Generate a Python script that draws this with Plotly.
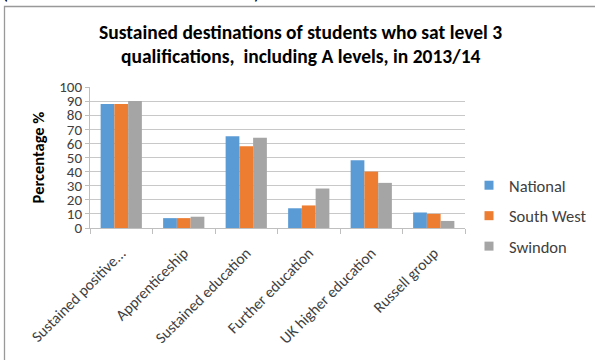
import plotly.graph_objects as go

categories = ["Sustained positive...", "Apprenticeship", "Sustained education",
              "Further education", "UK higher education", "Russell group"]
national = [88, 7, 65, 14, 48, 11]
south_west = [88, 7, 58, 16, 40, 10]
swindon = [90, 8, 64, 28, 32, 5]
series_names = ["National", "South West", "Swindon"]
colors = ["#5B9BD5", "#ED7D31", "#A5A5A5"]
y_ticks = [0, 10, 20, 30, 40, 50, 60, 70, 80, 90, 100]

FONT = "Carlito, Lato, sans-serif"
W, H = 595, 360
L, R, T, B = 90, 130, 87, 132

fig = go.Figure()
for i, (name, vals) in enumerate(zip(series_names, [national, south_west, swindon])):
    fig.add_trace(go.Bar(
        x=categories, y=vals, name=name, legendgroup=name, showlegend=False,
        marker=dict(color=colors[i], line=dict(width=0)),
    ))
# small square legend keys
for i, name in enumerate(series_names):
    fig.add_trace(go.Scatter(
        x=[None], y=[None], mode="markers", name=name, legendgroup=name,
        marker=dict(symbol="square", size=9, color=colors[i]),
    ))


def px_x(p):
    return (p - L) / (W - L - R)


def px_y(p):
    return 1 - (p - T) / (H - T - B)


fig.update_layout(
    width=W, height=H,
    margin=dict(l=L, r=R, t=T, b=B, autoexpand=False),
    paper_bgcolor="white", plot_bgcolor="white",
    font=dict(family=FONT, color="#404040"),
    barmode="group", bargap=0.34, bargroupgap=0,
    showlegend=True,
    legend=dict(x=px_x(469), y=px_y(168), xanchor="left", yanchor="top",
                font=dict(size=16.5, color="#404040", family=FONT),
                tracegroupgap=6, itemwidth=30, bgcolor="rgba(0,0,0,0)"),
    xaxis=dict(tickangle=-45, tickfont=dict(size=15.5, color="#404040"),
               showline=True, linecolor="#BFBFBF", linewidth=1,
               ticks="outside", tickson="boundaries", ticklen=5, tickcolor="#BFBFBF",
               ticklabelstandoff=9, showgrid=False),
    yaxis=dict(range=[0, 100], tickvals=y_ticks, tickfont=dict(size=15, color="#404040"),
               showline=True, linecolor="#BFBFBF", linewidth=1,
               ticks="outside", ticklen=4, tickcolor="#BFBFBF",
               showgrid=True, gridcolor="#C8C8C8", gridwidth=1, zeroline=False,
               title=dict(text="<b>Percentage %</b>", font=dict(size=16.5, color="#000000"),
                          standoff=10)),
    shapes=[dict(type="rect", xref="paper", yref="paper",
                 x0=px_x(4.5), x1=px_x(605), y0=px_y(370), y1=px_y(6.5),
                 line=dict(color="#999999", width=1.3), fillcolor="rgba(0,0,0,0)",
                 layer="below")],
    annotations=[
        dict(text="<b>Sustained destinations of students who sat level 3</b>",
             xref="paper", yref="paper", x=px_x(300), y=px_y(32), xanchor="center",
             yanchor="middle", showarrow=False, font=dict(size=19.5, color="#000000")),
        dict(text="<b>qualifications,  including A levels, in 2013/14</b>",
             xref="paper", yref="paper", x=px_x(301), y=px_y(56), xanchor="center",
             yanchor="middle", showarrow=False, font=dict(size=19.5, color="#000000")),
        dict(text="(", xref="paper", yref="paper", x=px_x(0), y=px_y(6),
             xanchor="left", yanchor="bottom", showarrow=False,
             font=dict(size=20, color="#000000")),
        dict(text=")", xref="paper", yref="paper", x=px_x(252), y=px_y(6),
             xanchor="left", yanchor="bottom", showarrow=False,
             font=dict(size=20, color="#000000")),
    ],
)

fig.write_html("out.html")
